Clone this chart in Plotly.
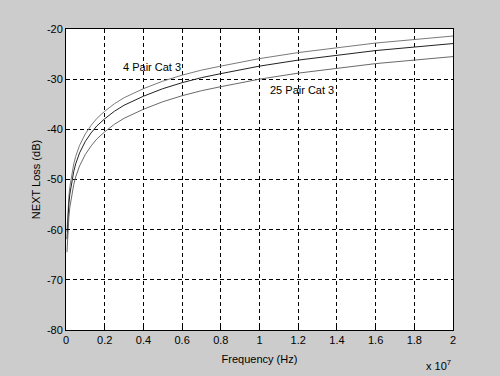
import plotly.graph_objects as go

# Frequency samples (Hz) and NEXT loss values (dB)
freq_hz = [5e4, 7.5e4, 1e5, 1.5e5, 2e5, 3e5, 4e5, 5e5, 7e5, 1e6, 1.3e6, 1.6e6, 2e6,
           2.5e6, 3e6, 4e6, 5e6, 6e6, 7e6, 8e6, 1e7, 1.2e7, 1.4e7, 1.6e7, 1.8e7, 2e7]
upper_db = [-60.4, -57.8, -55.9, -53.3, -51.4, -48.7, -46.9, -45.4, -43.2, -40.9,
            -39.2, -37.8, -36.4, -34.9, -33.7, -31.9, -30.4, -29.2, -28.2, -27.4,
            -25.9, -24.7, -23.7, -22.8, -22.1, -21.4]
middle_db = [-61.9, -59.3, -57.4, -54.8, -52.9, -50.2, -48.4, -46.9, -44.7, -42.4,
             -40.7, -39.3, -37.9, -36.4, -35.2, -33.4, -31.9, -30.7, -29.7, -28.9,
             -27.4, -26.2, -25.2, -24.3, -23.6, -22.9]
lower_db = [-64.5, -61.9, -60.0, -57.4, -55.5, -52.8, -51.0, -49.5, -47.3, -45.0,
            -43.3, -41.9, -40.5, -39.0, -37.8, -36.0, -34.5, -33.3, -32.3, -31.5,
            -30.0, -28.8, -27.8, -26.9, -26.2, -25.5]

x_tick_vals = [0, 2e6, 4e6, 6e6, 8e6, 1e7, 1.2e7, 1.4e7, 1.6e7, 1.8e7, 2e7]
x_tick_text = ["0", "0.2", "0.4", "0.6", "0.8", "1", "1.2", "1.4", "1.6", "1.8", "2"]
y_tick_vals = [-80, -70, -60, -50, -40, -30, -20]
y_tick_text = ["-80", "-70", "-60", "-50", "-40", "-30", "-20"]

font_family = "Liberation Sans, Arial, sans-serif"

fig = go.Figure()
for ys, col in [(upper_db, "#7a7a7a"), (middle_db, "#222222"), (lower_db, "#6a6a6a")]:
    fig.add_trace(go.Scatter(x=freq_hz, y=ys, mode="lines",
                             line=dict(color=col, width=1),
                             showlegend=False))

fig.add_annotation(x=4.44e6, y=-27.6, text="4 Pair Cat 3", showarrow=False,
                   font=dict(size=11, color="black", family=font_family))
fig.add_annotation(x=1.222e7, y=-32.2, text="25 Pair Cat 3", showarrow=False,
                   font=dict(size=11, color="black", family=font_family))
fig.add_annotation(xref="paper", yref="paper", x=1.0, y=-0.085, xanchor="right",
                   yanchor="top", text="x 10<sup>7</sup>", showarrow=False,
                   font=dict(size=11, color="black", family=font_family))

axis_common = dict(showline=True, linecolor="black", linewidth=1, mirror=True,
                   showgrid=True, gridcolor="black", griddash="4px,3px", gridwidth=1,
                   ticks="inside", ticklen=4, tickcolor="black", zeroline=False,
                   tickfont=dict(size=11, color="black", family=font_family))

fig.update_xaxes(range=[0, 2e7], tickvals=x_tick_vals, ticktext=x_tick_text,
                 title=dict(text="Frequency (Hz)", standoff=10,
                            font=dict(size=11, color="black", family=font_family)),
                 **axis_common)
fig.update_yaxes(range=[-80, -20], tickvals=y_tick_vals, ticktext=y_tick_text,
                 title=dict(text="NEXT Loss (dB)", standoff=4,
                            font=dict(size=11, color="black", family=font_family)),
                 **axis_common)

fig.update_layout(width=500, height=376,
                  margin=dict(l=66, r=47, t=29, b=41),
                  paper_bgcolor="#cccccc", plot_bgcolor="white",
                  font=dict(family=font_family, size=11, color="black"))

fig.write_html("out.html", config={"displayModeBar": False},
               post_script="document.body.style.margin='0';"
                           "document.body.style.background='#cccccc';")
